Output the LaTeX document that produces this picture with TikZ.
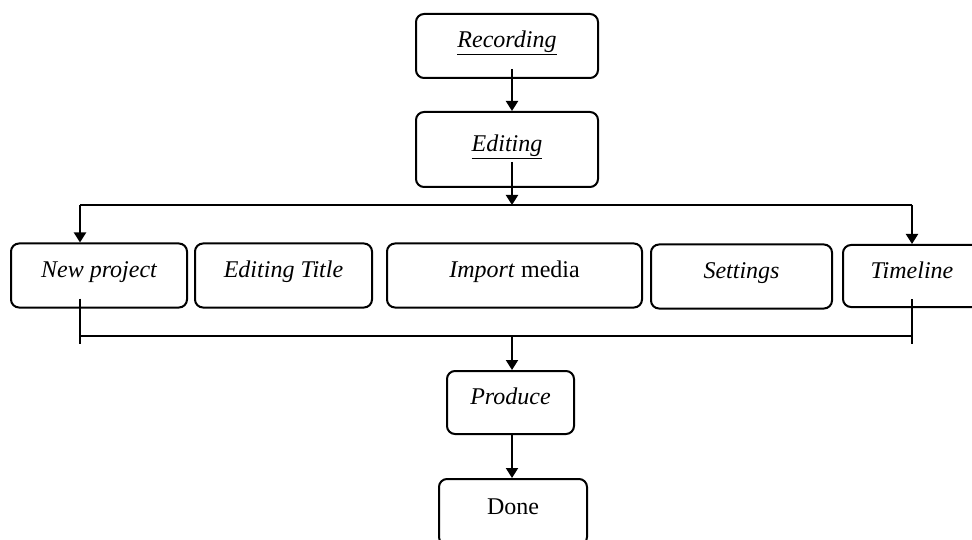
\documentclass[tikz,border=0pt]{standalone}
\usepackage{fontspec}
\setmainfont{Liberation Serif}
\usetikzlibrary{arrows.meta,calc}
\begin{document}
\begin{tikzpicture}[x=1pt,y=-1pt,
  box/.style={draw,line width=2pt,rounded corners=8pt,inner sep=0pt,
    text height=16pt,text depth=12pt,font=\fontsize{24}{28}\selectfont},
  link/.style={line width=2pt},
  arr/.style={link,-{Triangle[width=12pt,length=10pt]}}]
\clip (0,0) rectangle (972,540);
\useasboundingbox (0,0) rectangle (972,540);
% nodes
\node[box,minimum width=182pt,minimum height=64pt] (rec) at (507,46) {\underline{\itshape Recording}};
\node[box,minimum width=182pt,minimum height=75pt] (edit) at (507,149.5) {\underline{\itshape Editing}};
\node[box,minimum width=176pt,minimum height=64pt] (np) at (99,275.5) {\itshape New project};
\node[box,minimum width=177pt,minimum height=64pt] (et) at (283.5,275.5) {\itshape Editing Title};
\node[box,minimum width=255pt,minimum height=64pt] (im) at (514.5,275.5) {\textit{Import} media};
\node[box,minimum width=181pt,minimum height=64pt] (set) at (741.5,276.5) {\itshape Settings};
\node[box,minimum width=138pt,minimum height=62pt] (tl) at (912,276) {\itshape Timeline};
\node[box,minimum width=127pt,minimum height=63pt] (prod) at (510.5,402.5) {\itshape Produce};
\node[box,minimum width=148pt,minimum height=66pt] (done) at (513,512) {Done};
% helper coordinates
\coordinate (spine) at (512,0);
\coordinate (npx) at (80,0);
\coordinate (tlx) at (912,0);
\coordinate (busA) at (0,205);
\coordinate (busB) at (0,336);
\coordinate (busBend) at (0,344);
% connectors
\draw[arr] ([yshift=10pt]rec.south -| spine) -- (spine |- edit.north);
\draw[arr] ([yshift=26pt]edit.south -| spine) -- (spine |- busA);
\draw[link] (npx |- busA) -- (tlx |- busA);
\draw[arr] (npx |- busA) -- (npx |- np.north);
\draw[arr] (tlx |- busA) -- (tlx |- tl.north);
\draw[link] ([yshift=10pt]np.south -| npx) -- (npx |- busBend);
\draw[link] ([yshift=9pt]tl.south -| tlx) -- (tlx |- busBend);
\draw[link] (npx |- busB) -- (tlx |- busB);
\draw[arr] (spine |- busB) -- (spine |- prod.north);
\draw[arr] (spine |- prod.south) -- (spine |- done.north);
\end{tikzpicture}
\end{document}
